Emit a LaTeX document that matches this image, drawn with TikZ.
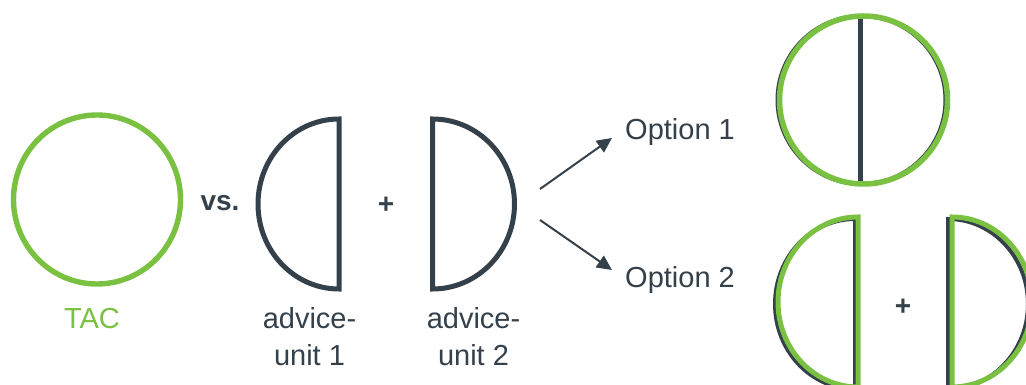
\documentclass[tikz,border=0pt]{standalone}
\usepackage{fontspec}
\setmainfont{Liberation Sans}
\usetikzlibrary{arrows.meta}
\definecolor{leaf}{RGB}{122,193,66}
\definecolor{slate}{RGB}{52,64,74}
\tikzset{
  greenring/.style={draw=leaf, line width=5.4pt},
  halfunit/.style={draw=slate, line width=5pt, line join=miter},
  greenhalf/.style={draw=leaf, line width=5pt, line join=miter},
  label/.style={inner sep=0pt, text=slate, font=\fontsize{29}{34}\selectfont},
  boldsign/.style={inner sep=0pt, text=slate, font=\fontsize{28}{33}\selectfont\bfseries},
  pointer/.style={draw=slate, line width=2pt, -{Triangle[length=15pt,width=14pt]}}
}
\begin{document}
\begin{tikzpicture}[x=1pt,y=1pt]
\useasboundingbox (0,0) rectangle (1026,385);

% whole circle
\draw[greenring] (97,185.5) ellipse [x radius=83.5, y radius=84.5];
\node[label, text=leaf, anchor=base] (tac) at (92,56) {TAC};
\node[boldsign, anchor=base] (vs) at (220,174) {vs.};

% the two advice units
\draw[halfunit] (339,266) arc[start angle=90, end angle=270, x radius=81, y radius=85] -- cycle;
\node[boldsign] (plusA) at (386,180) {+};
\draw[halfunit] (432.5,266) arc[start angle=90, end angle=-90, x radius=82, y radius=85] -- cycle;
\node[label, anchor=base] (au1a) at (309.5,56) {advice-};
\node[label, anchor=base] (au1b) at (309.5,19) {unit 1};
\node[label, anchor=base] (au2a) at (473.5,56) {advice-};
\node[label, anchor=base] (au2b) at (473.5,19) {unit 2};

% options
\node[label, anchor=base west] (opt1) at (625,245) {Option 1};
\node[label, anchor=base west] (opt2) at (625,97) {Option 2};
\coordinate (fromA) at (540,196);
\coordinate (toA) at (612,247);
\coordinate (fromB) at (540,165);
\coordinate (toB) at (612,115);
\draw[pointer] (fromA) -- (toA);
\draw[pointer] (fromB) -- (toB);

% option 1: merged circle
\draw[draw=slate, line width=4pt] (861.5,285) ellipse [x radius=84, y radius=84];
\draw[draw=slate, line width=5pt] (860,367) -- (860,202);
\draw[draw=leaf, line width=5.5pt] (863.5,285) ellipse [x radius=84, y radius=84];

% option 2: two outlined halves
\draw[halfunit, line width=4pt] (855,166) arc[start angle=90, end angle=270, x radius=80, y radius=85] -- cycle;
\draw[greenhalf] (858,168) arc[start angle=90, end angle=270, x radius=80, y radius=85] -- cycle;
\node[boldsign] (plusB) at (903,78) {+};
\draw[halfunit, line width=4pt] (948,166) arc[start angle=90, end angle=-90, x radius=80, y radius=85] -- cycle;
\draw[greenhalf] (952,168) arc[start angle=90, end angle=-90, x radius=80, y radius=85] -- cycle;
\end{tikzpicture}
\end{document}
